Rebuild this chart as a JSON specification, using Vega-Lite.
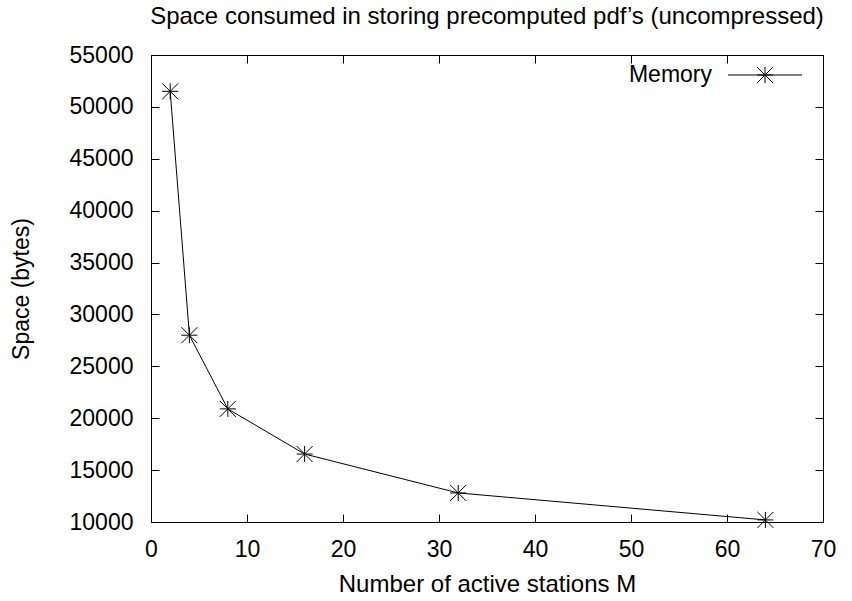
{
  "$schema": "https://vega.github.io/schema/vega-lite/v6.json",
  "width": 672,
  "height": 467,
  "autosize": {"type": "none"},
  "padding": {"left": 151, "top": 55, "right": 29, "bottom": 79},
  "background": "white",
  "title": {
    "text": "Space consumed in storing precomputed pdf’s (uncompressed)",
    "frame": "group",
    "anchor": "middle",
    "fontSize": 24,
    "fontWeight": "normal",
    "font": "Liberation Sans",
    "color": "black",
    "offset": 15
  },
  "data": {
    "values": [
      {"series": "Memory", "M": 2, "bytes": 51500},
      {"series": "Memory", "M": 4, "bytes": 28000},
      {"series": "Memory", "M": 8, "bytes": 20900},
      {"series": "Memory", "M": 16, "bytes": 16550},
      {"series": "Memory", "M": 32, "bytes": 12800},
      {"series": "Memory", "M": 64, "bytes": 10200}
    ]
  },
  "layer": [
    {
      "mark": {"type": "line", "color": "black", "strokeWidth": 1},
      "encoding": {
        "x": {
          "field": "M",
          "type": "quantitative",
          "scale": {"domain": [0, 70], "nice": false},
          "axis": {
            "orient": "bottom",
            "values": [0, 10, 20, 30, 40, 50, 60, 70],
            "title": "Number of active stations M",
            "titleFontSize": 24,
            "labelPadding": 24,
            "titlePadding": 11
          }
        },
        "y": {
          "field": "bytes",
          "type": "quantitative",
          "scale": {"domain": [10000, 55000], "nice": false, "zero": false},
          "axis": {
            "orient": "left",
            "values": [10000, 15000, 20000, 25000, 30000, 35000, 40000, 45000, 50000, 55000],
            "format": "d",
            "title": "Space (bytes)",
            "labelPadding": 26,
            "titlePadding": 36
          }
        },
        "color": {
          "field": "series",
          "type": "nominal",
          "scale": {"range": ["black"]},
          "legend": {
            "title": null,
            "orient": "none",
            "legendX": 602.5,
            "legendY": 8.5,
            "padding": 0,
            "symbolType": "M-4.625,0L4.625,0M-1,0L1,0M0,-1L0,1M-1,-1L1,1M-1,1L1,-1",
            "symbolSize": 256,
            "symbolStrokeColor": "black",
            "symbolStrokeWidth": 1,
            "symbolFillColor": "transparent",
            "symbolOffset": 0,
            "labelAlign": "right",
            "labelOffset": -64.5,
            "labelFontSize": 23,
            "labelFont": "Liberation Sans",
            "labelColor": "black"
          }
        }
      }
    },
    {
      "mark": {
        "type": "point",
        "shape": "M-1,0L1,0M0,-1L0,1M-1,-1L1,1M-1,1L1,-1",
        "size": 256,
        "filled": false,
        "stroke": "black",
        "strokeWidth": 1,
        "opacity": 1
      },
      "encoding": {
        "x": {
          "field": "M",
          "type": "quantitative",
          "axis": {
            "orient": "top",
            "values": [0, 10, 20, 30, 40, 50, 60, 70],
            "labels": false,
            "title": null
          }
        },
        "y": {
          "field": "bytes",
          "type": "quantitative",
          "axis": {
            "orient": "right",
            "values": [10000, 15000, 20000, 25000, 30000, 35000, 40000, 45000, 50000, 55000],
            "labels": false,
            "title": null
          }
        }
      }
    }
  ],
  "resolve": {"axis": {"x": "independent", "y": "independent"}},
  "config": {
    "font": "Liberation Sans",
    "view": {"stroke": "black", "strokeWidth": 1},
    "axis": {
      "grid": false,
      "domain": false,
      "ticks": true,
      "tickSize": -8,
      "tickWidth": 1,
      "tickColor": "black",
      "labelFont": "Liberation Sans",
      "labelFontSize": 23,
      "labelColor": "black",
      "labelFlush": false,
      "labelOverlap": false,
      "titleFont": "Liberation Sans",
      "titleFontSize": 23,
      "titleFontWeight": "normal",
      "titleColor": "black"
    }
  }
}
